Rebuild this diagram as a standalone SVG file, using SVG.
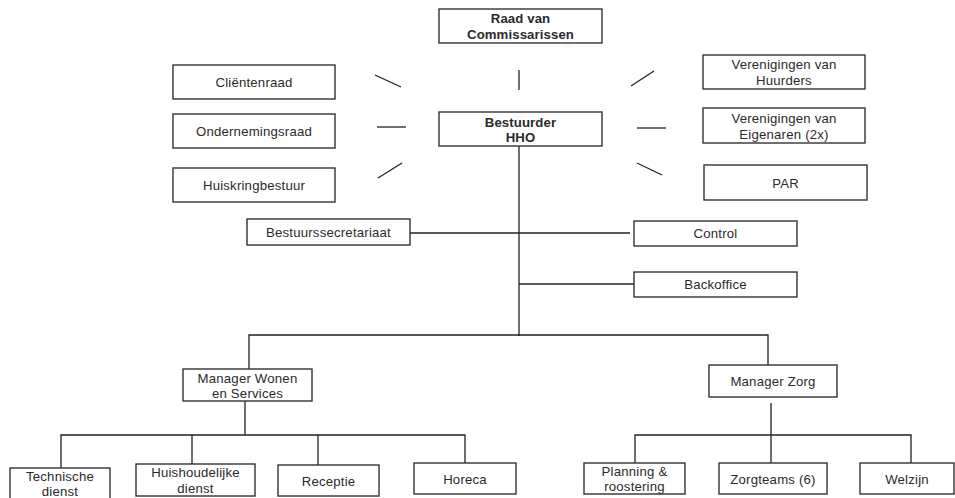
<svg xmlns="http://www.w3.org/2000/svg" width="955" height="498" viewBox="0 0 955 498">
<style>
.b{fill:#fff;stroke:#333;stroke-width:1.4}
.t{font-family:"Liberation Sans",Arial,sans-serif;font-size:13.2px;fill:#2a2a2a;text-anchor:middle;letter-spacing:0.2px}
.tb{font-weight:bold;letter-spacing:0.1px}
.c line,.c path{stroke:#222;stroke-width:1.3;fill:none}
</style>
<rect width="955" height="498" fill="#fff"/>
<g class="c" id="connectors">
<line x1="519" y1="70" x2="519" y2="90"/>
<line x1="375" y1="75" x2="401" y2="87"/>
<line x1="377" y1="127" x2="406" y2="127"/>
<line x1="378" y1="178" x2="402" y2="163"/>
<line x1="631" y1="86" x2="654" y2="71"/>
<line x1="637" y1="128" x2="666" y2="128"/>
<line x1="637" y1="163" x2="662" y2="175"/>
<line x1="519" y1="146" x2="519" y2="336"/>
<line x1="410" y1="233" x2="630" y2="233"/>
<line x1="519" y1="284" x2="634" y2="284"/>
<path d="M249 369V335H768V365"/>
<path d="M245 401V435M61 468V435H465V463M192 435V464M318 435V465"/>
<path d="M771 403V435M635 463V435H911V463M771 435V463"/>
</g>
<g id="raad"><rect class="b" x="439" y="9" width="163" height="34"/><text class="t tb" x="520.5" y="23">Raad van</text><text class="t tb" x="520.5" y="38.5">Commissarissen</text></g>
<g id="bestuurder"><rect class="b" x="439" y="112" width="163" height="34"/><text class="t tb" x="520.5" y="126.5">Bestuurder</text><text class="t tb" x="520.5" y="142">HHO</text></g>
<g id="clientenraad"><rect class="b" x="173" y="65" width="162" height="34"/><text class="t" x="254" y="87">Cliëntenraad</text></g>
<g id="ondernemingsraad"><rect class="b" x="173" y="114" width="162" height="34"/><text class="t" x="254" y="136">Ondernemingsraad</text></g>
<g id="huiskringbestuur"><rect class="b" x="173" y="168" width="162" height="34"/><text class="t" x="254" y="190">Huiskringbestuur</text></g>
<g id="huurders"><rect class="b" x="703" y="55" width="162" height="34"/><text class="t" x="784" y="69">Verenigingen van</text><text class="t" x="784" y="84.5">Huurders</text></g>
<g id="eigenaren"><rect class="b" x="703" y="108" width="162" height="35"/><text class="t" x="784" y="122.5">Verenigingen van</text><text class="t" x="784" y="138.5">Eigenaren (2x)</text></g>
<g id="par"><rect class="b" x="704" y="165" width="163" height="35"/><text class="t" x="785.5" y="187.5">PAR</text></g>
<g id="bestuurssecretariaat"><rect class="b" x="247" y="219" width="163" height="26"/><text class="t" x="328.5" y="237">Bestuurssecretariaat</text></g>
<g id="control"><rect class="b" x="634" y="221" width="163" height="25"/><text class="t" x="715.5" y="238">Control</text></g>
<g id="backoffice"><rect class="b" x="634" y="272" width="163" height="25"/><text class="t" x="715.5" y="289">Backoffice</text></g>
<g id="manager-wonen"><rect class="b" x="183" y="369" width="129" height="32"/><text class="t" x="247.5" y="383">Manager Wonen</text><text class="t" x="247.5" y="397.5">en Services</text></g>
<g id="manager-zorg"><rect class="b" x="709" y="365" width="128" height="32"/><text class="t" x="773" y="386">Manager Zorg</text></g>
<g id="technische-dienst"><rect class="b" x="10" y="468" width="100" height="34"/><text class="t" x="60" y="481">Technische</text><text class="t" x="60" y="496">dienst</text></g>
<g id="huishoudelijke-dienst"><rect class="b" x="136" y="464" width="119" height="32"/><text class="t" x="195.5" y="477">Huishoudelijke</text><text class="t" x="195.5" y="493">dienst</text></g>
<g id="receptie"><rect class="b" x="278" y="465" width="101" height="31"/><text class="t" x="328.5" y="485.5">Receptie</text></g>
<g id="horeca"><rect class="b" x="414" y="463" width="102" height="31"/><text class="t" x="465" y="484">Horeca</text></g>
<g id="planning"><rect class="b" x="584" y="463" width="101" height="31"/><text class="t" x="634.5" y="476">Planning &amp;</text><text class="t" x="634.5" y="491">roostering</text></g>
<g id="zorgteams"><rect class="b" x="719" y="463" width="108" height="31"/><text class="t" x="773" y="484">Zorgteams (6)</text></g>
<g id="welzijn"><rect class="b" x="860" y="463" width="94" height="31"/><text class="t" x="907" y="484">Welzijn</text></g>
</svg>
